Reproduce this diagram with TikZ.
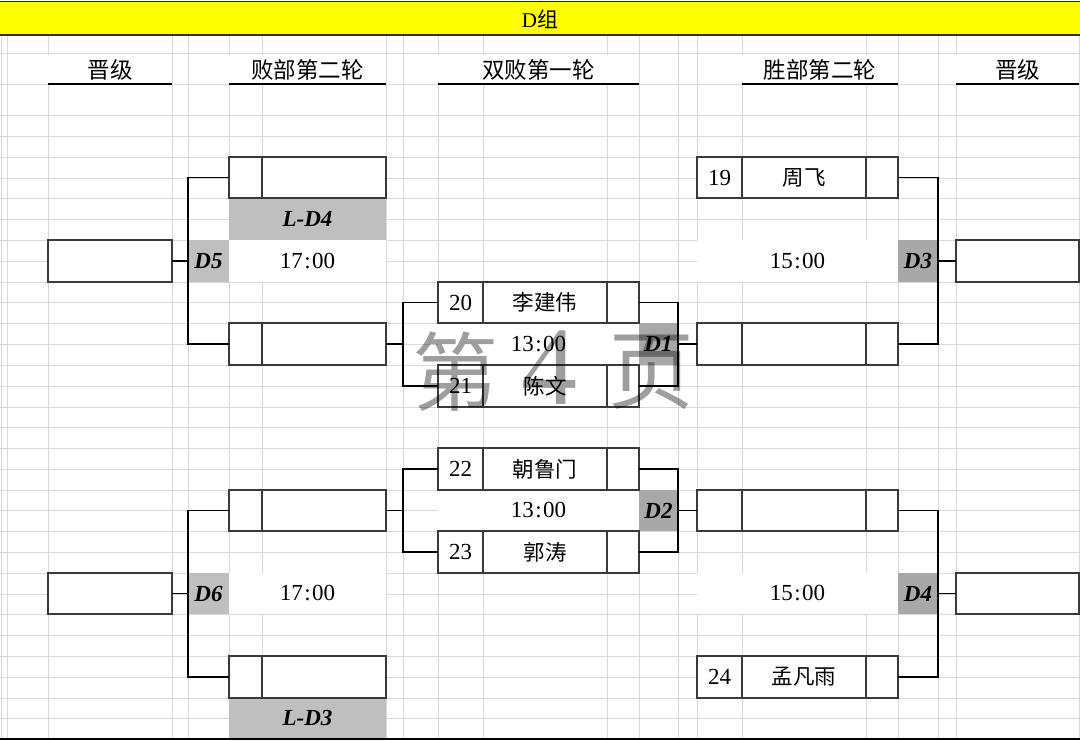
\documentclass[tikz,border=0pt]{standalone}
\usepackage{fontspec}
\setmainfont{Liberation Serif}
\newfontfamily\cjk{Noto Sans CJK SC}
\newcommand\myfs[1]{\fontsize{#1}{#1}\selectfont}
\definecolor{gridc}{HTML}{D9D9D9}
\definecolor{boxc}{HTML}{3A3A3A}
\definecolor{grayA}{HTML}{BFBFBF}
\definecolor{grayB}{HTML}{A8A8A8}
\definecolor{titleyellow}{HTML}{FFFF00}
\definecolor{topline}{HTML}{1F1F4F}
\begin{document}
\begin{tikzpicture}[x=1pt,y=-1pt,
  box/.style={draw=boxc, line width=1.2pt, fill=white, inner sep=0pt, outer sep=0pt},
  cellfill/.style={fill=#1, draw=none, inner sep=0pt, outer sep=0pt, font=\myfs{23}\bfseries\itshape},
  merged/.style={fill=white, draw=none, inner sep=0pt, outer sep=0pt, font=\myfs{23}},
  hdr/.style={fill=white, draw=none, inner sep=0pt, outer sep=0pt, font=\cjk\myfs{22.5}},
  hline/.style={draw=black, line width=1.5pt},
  br/.style={draw=black, line width=1.8pt},
  divl/.style={draw=boxc, line width=1.2pt},
  seed/.style={inner sep=0pt, font=\myfs{23}},
  pname/.style={inner sep=0pt, font=\cjk\myfs{21.5}},
  wm/.style={inner sep=0pt, text=black, text opacity=0.38}
]
\useasboundingbox (0,0) rectangle (1080,740);
\fill[white] (0,0) rectangle (1080,740);
% grid
\foreach \x in {1,7,48,172,188,229,262,386,403,438,483,607,639,678,697,742,866,898,938,956,1079}
  \draw[gridc, line width=1pt] (\x,35) -- (\x,740);
\foreach \y in {53,84,115,136,157,178,198,219,240,261,282,302,323,344,365,386,407,427,448,469,490,510,531,552,573,594,614,635,656,677,698,718}
  \draw[gridc, line width=1pt] (0,\y) -- (1080,\y);
% title bar
\fill[titleyellow] (0,1) rectangle (1080,35);
\draw[topline, line width=1pt] (0,1) -- (1080,1);
\draw[black!80, line width=1.3pt] (0,35) -- (1080,35);
\node[inner sep=0pt, font=\myfs{21}] (title) at (540,19) {D{\cjk 组}};
% headers
\node[hdr, minimum width=124pt, minimum height=29pt] (h1) at (110,69.5) {晋级};
\node[hdr, minimum width=157pt, minimum height=29pt] (h2) at (307.5,69.5) {败部第二轮};
\node[hdr, minimum width=201pt, minimum height=29pt] (h3) at (538.5,69.5) {双败第一轮};
\node[hdr, minimum width=156pt, minimum height=29pt] (h4) at (820,69.5) {胜部第二轮};
\node[hdr, minimum width=123pt, minimum height=29pt] (h5) at (1017.5,69.5) {晋级};
\foreach \h in {h1,h2,h3,h4,h5} \draw[hline] (\h.south west) -- (\h.south east);
% merged time cells
\node[merged, minimum width=157pt, minimum height=42pt] (t5) at (307.5,261) {17\kern1.5pt:\kern1.5pt00};
\node[merged, minimum width=157pt, minimum height=41pt] (t6) at (307.5,593.5) {17\kern1.5pt:\kern1.5pt00};
\node[merged, minimum width=201pt, minimum height=42pt] (t1) at (538.5,344) {13\kern1.5pt:\kern1.5pt00};
\node[merged, minimum width=201pt, minimum height=41pt] (t2) at (538.5,510.5) {13\kern1.5pt:\kern1.5pt00};
\node[merged, minimum width=201pt, minimum height=42pt] (t3) at (797.5,261) {15\kern1.5pt:\kern1.5pt00};
\node[merged, minimum width=201pt, minimum height=41pt] (t4) at (797.5,593.5) {15\kern1.5pt:\kern1.5pt00};
% gray cells
\node[cellfill=grayA, minimum width=41pt, minimum height=42pt] (D5) at (208.5,261) {D5};
\node[cellfill=grayA, minimum width=41pt, minimum height=41pt] (D6) at (208.5,593.5) {D6};
\node[cellfill=grayA, minimum width=157pt, minimum height=42pt] (LD4) at (307.5,219) {L-D4};
\node[cellfill=grayA, minimum width=157pt, minimum height=40pt] (LD3) at (307.5,718) {L-D3};
\node[cellfill=grayB, minimum width=39pt, minimum height=42pt] (D1) at (658.5,344) {D1};
\node[cellfill=grayB, minimum width=39pt, minimum height=41pt] (D2) at (658.5,510.5) {D2};
\node[cellfill=grayB, minimum width=40pt, minimum height=42pt] (D3) at (918,261) {D3};
\node[cellfill=grayB, minimum width=40pt, minimum height=41pt] (D4) at (918,593.5) {D4};
% advance boxes
\node[box, minimum width=124pt, minimum height=42pt] (adv1) at (110,261) {};
\node[box, minimum width=124pt, minimum height=41pt] (adv2) at (110,593.5) {};
\node[box, minimum width=123pt, minimum height=42pt] (adv3) at (1017.5,261) {};
\node[box, minimum width=123pt, minimum height=41pt] (adv4) at (1017.5,593.5) {};
% losers round 2 boxes
\node[box, minimum width=157pt, minimum height=41pt] (lb1) at (307.5,177.5) {};
\node[box, minimum width=157pt, minimum height=42pt] (lb2) at (307.5,344) {};
\node[box, minimum width=157pt, minimum height=41pt] (lb3) at (307.5,510.5) {};
\node[box, minimum width=157pt, minimum height=42pt] (lb4) at (307.5,677) {};
\foreach \b in {lb1,lb2,lb3,lb4}
  \draw[divl] ([xshift=33pt]\b.north west) -- ([xshift=33pt]\b.south west);
% first round boxes
\node[box, minimum width=201pt, minimum height=41pt] (c20) at (538.5,302.5) {};
\node[box, minimum width=201pt, minimum height=42pt] (c21) at (538.5,386) {};
\node[box, minimum width=201pt, minimum height=42pt] (c22) at (538.5,469) {};
\node[box, minimum width=201pt, minimum height=42pt] (c23) at (538.5,552) {};
% winners round 2 boxes
\node[box, minimum width=201pt, minimum height=41pt] (w19) at (797.5,177.5) {};
\node[box, minimum width=201pt, minimum height=42pt] (w2) at (797.5,344) {};
\node[box, minimum width=201pt, minimum height=41pt] (w3) at (797.5,510.5) {};
\node[box, minimum width=201pt, minimum height=42pt] (w24) at (797.5,677) {};
\foreach \b in {c20,c21,c22,c23,w19,w2,w3,w24} {
  \draw[divl] ([xshift=45pt]\b.north west) -- ([xshift=45pt]\b.south west);
  \draw[divl] ([xshift=-32pt]\b.north east) -- ([xshift=-32pt]\b.south east);
}
% brackets
\draw[br] (lb1.west) -- ++(-41,0) |- (lb2.west);
\draw[br] (adv1.east) -- (D5.west);
\draw[br] (lb3.west) -- ++(-41,0) |- (lb4.west);
\draw[br] (adv2.east) -- (D6.west);
\coordinate (j1) at (403,344);
\coordinate (j2) at (403,510.5);
\draw[br] (c20.west) -- ++(-35,0) |- (c21.west);
\draw[br] (lb2.east) -- (j1);
\draw[br] (c22.west) -- ++(-35,0) |- (c23.west);
\draw[br] (lb3.east) -- (j2);
\draw[br] (c20.east) -- ++(39,0) |- (c21.east);
\draw[br] (D1.east) -- (w2.west);
\draw[br] (c22.east) -- ++(39,0) |- (c23.east);
\draw[br] (D2.east) -- (w3.west);
\draw[br] (w19.east) -- ++(40,0) |- (w2.east);
\draw[br] (D3.east) -- (adv3.west);
\draw[br] (w3.east) -- ++(40,0) |- (w24.east);
\draw[br] (D4.east) -- (adv4.west);
% texts in boxes
\node[seed] (s20) at (460.5,302.5) {20};
\node[pname] (n20) at (545,302.5) {李建伟};
\node[seed] (s21) at (460.5,386) {21};
\node[pname] (n21) at (545,386) {陈文};
\node[seed] (s22) at (460.5,469) {22};
\node[pname] (n22) at (545,469) {朝鲁门};
\node[seed] (s23) at (460.5,552) {23};
\node[pname] (n23) at (545,552) {郭涛};
\node[seed] (s19) at (719.5,177.5) {19};
\node[pname] (n19) at (804,177.5) {周飞};
\node[seed] (s24) at (719.5,677) {24};
\node[pname] (n24) at (804,677) {孟凡雨};
% bottom line
\draw[black, line width=2.5pt] (0,738.8) -- (1080,738.8);
% watermark
\node[wm, font=\cjk\myfs{86}] (wm1) at (455,372) {第};
\node[wm, font=\myfs{112}] (wm2) at (549,368) {4};
\node[wm, font=\cjk\myfs{86}] (wm3) at (651,372) {页};
\end{tikzpicture}
\end{document}
